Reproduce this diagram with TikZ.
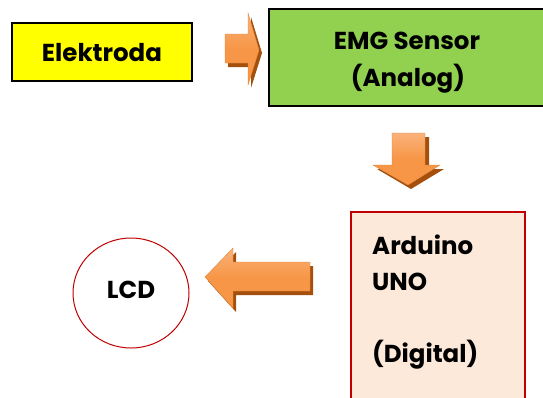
\documentclass[tikz,border=0pt]{standalone}
\usepackage{fontspec}
\setmainfont{Poppins}
\usetikzlibrary{shapes.geometric}
\definecolor{yel}{HTML}{FFFF00}
\definecolor{grn}{HTML}{92D050}
\definecolor{peach}{HTML}{FDE9DA}
\definecolor{dred}{HTML}{C00000}
\definecolor{org}{HTML}{F79646}
\definecolor{orglight}{HTML}{FAB27A}
\definecolor{orgdark}{HTML}{A4500C}
\tikzset{
  box/.style={draw=black, line width=1.6pt, rectangle, inner sep=0pt},
  lbl/.style={font=\bfseries\fontsize{24.5}{24.5}\selectfont, text=black, align=center, inner sep=0pt},
  blockarrow/.style={draw=org!90!black, line width=0.4pt, top color=orglight, bottom color=org, middle color=org},
  arrowshadow/.style={fill=orgdark, draw=none},
}
\begin{document}
\begin{tikzpicture}[x=1pt,y=-1pt]
\useasboundingbox (0,0) rectangle (543,397);
% boxes
\node[box, fill=yel, minimum width=180pt, minimum height=58pt] (elek) at (102,52) {};
\node[lbl] (elekt) at (102,53) {Elektroda};
\node[box, fill=grn, minimum width=277pt, minimum height=97pt] (emg) at (407.5,57.5) {};
\node[lbl] (emgt1) at (407,41) {EMG Sensor};
\node[lbl] (emgt2) at (408,79) {(Analog)};
\node[draw=dred, line width=1.4pt, fill=peach, minimum width=174pt, minimum height=198pt, inner sep=0pt] (ard) at (438,311) {};
\node[lbl, align=left, anchor=west] (ard1) at (372,245) {Arduino};
\node[lbl, align=left, anchor=west] (ard2) at (372,282) {UNO};
\node[lbl, align=left, anchor=west] (ard3) at (372,355) {(Digital)};
\node[ellipse, draw=dred, line width=1pt, minimum width=116pt, minimum height=110pt, inner sep=0pt] (lcd) at (131,293) {};
\node[lbl] (lcdt) at (131,290) {LCD};
% right arrow (elek -> emg)
\fill[arrowshadow] (228,38) -- (251,38) -- (251,17) -- (262,53) -- (251,88) -- (251,67) -- (228,67) -- cycle;
\path[blockarrow] (225,34) -- (248,34) -- (248,13) -- (259,50) -- (248,85) -- (248,63) -- (225,63) -- cycle;
% down arrow (emg -> ard)
\fill[arrowshadow] (396,137) -- (429,137) -- (429,169) -- (444,169) -- (411,189) -- (377,169) -- (396,169) -- cycle;
\path[blockarrow] (392,133) -- (425,133) -- (425,165) -- (440,165) -- (408,185) -- (373,165) -- (392,165) -- cycle;
% left arrow (ard -> lcd)
\fill[arrowshadow] (208,281) -- (236,252) -- (236,266) -- (313,266) -- (313,295) -- (236,295) -- (236,312) -- cycle;
\path[blockarrow] (205,277) -- (233,248) -- (233,262) -- (310,262) -- (310,291) -- (233,291) -- (233,308) -- cycle;
\end{tikzpicture}
\end{document}
